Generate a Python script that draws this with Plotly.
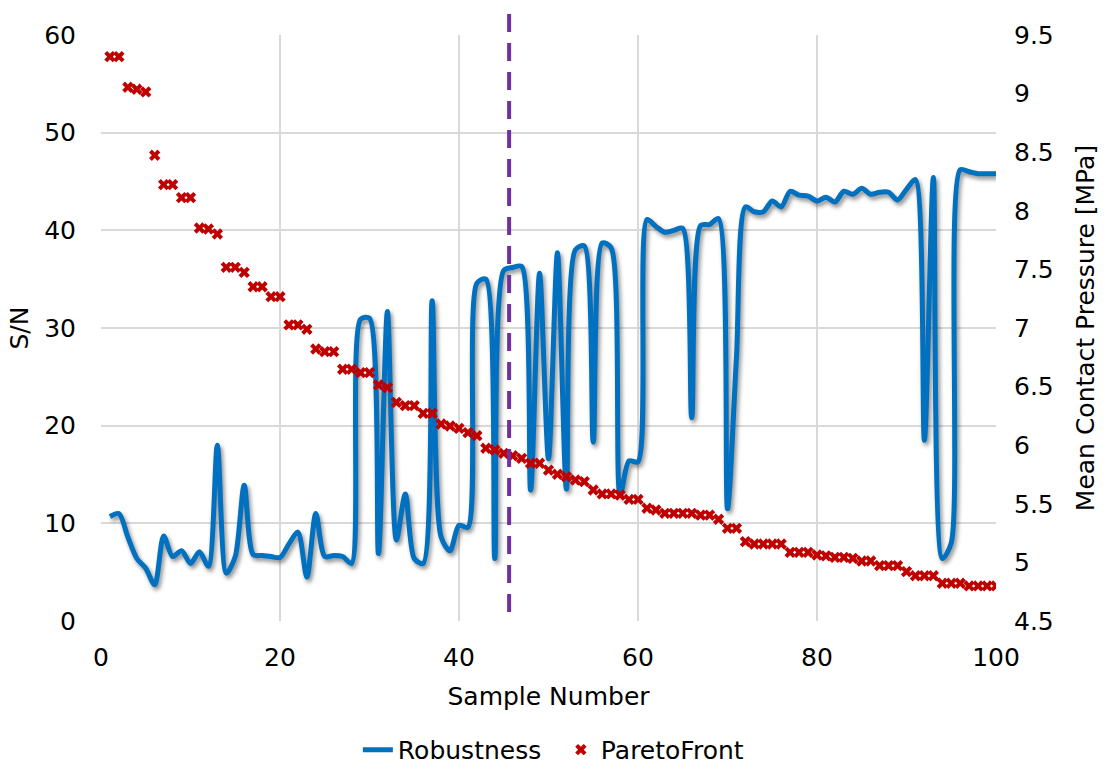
import plotly.graph_objects as go

# Sample index 1..100
samples = list(range(1, 101))

# Signal-to-noise ratio for each sample (left axis)
robustness = [
    10.7, 11.0, 8.6, 6.4, 5.4, 3.7, 8.7, 6.6, 7.2, 5.9,
    7.1, 5.6, 18.0, 4.9, 6.6, 13.9, 6.8, 6.7, 6.6, 6.5,
    7.9, 9.1, 4.5, 11.0, 6.6, 6.7, 6.6, 5.9, 30.9, 31.0,
    6.9, 31.7, 8.3, 13.0, 6.4, 5.9, 32.8, 8.6, 7.2, 9.8,
    9.6, 34.6, 35.0, 6.4, 35.9, 36.2, 36.3, 13.4, 35.6, 16.6,
    37.7, 13.5, 38.0, 38.4, 18.3, 38.7, 38.2, 12.9, 16.4, 16.3,
    41.1, 40.4, 39.8, 40.0, 40.2, 20.8, 40.5, 40.6, 41.2, 11.5,
    27.0, 42.4, 41.9, 41.9, 43.0, 42.4, 44.0, 43.6, 43.5, 43.0,
    43.4, 42.9, 44.0, 43.7, 44.3, 43.7, 43.9, 43.9, 43.1, 44.2,
    45.2, 18.5, 45.4, 6.4, 8.0, 46.2, 46.0, 45.8, 45.8, 45.8,
]

# Mean contact pressure on the Pareto front, MPa (right axis)
pareto_front = [
    9.315, 9.315, 9.054, 9.037, 9.014, 8.474, 8.223, 8.223, 8.112, 8.112,
    7.853, 7.845, 7.802, 7.518, 7.518, 7.475, 7.352, 7.352, 7.267, 7.267,
    7.026, 7.026, 6.989, 6.821, 6.798, 6.798, 6.648, 6.648, 6.619, 6.619,
    6.514, 6.491, 6.366, 6.337, 6.337, 6.272, 6.272, 6.181, 6.164, 6.144,
    6.107, 6.081, 5.974, 5.959, 5.931, 5.910, 5.888, 5.846, 5.846, 5.788,
    5.752, 5.731, 5.703, 5.689, 5.618, 5.584, 5.584, 5.575, 5.537, 5.537,
    5.462, 5.447, 5.419, 5.419, 5.419, 5.419, 5.404, 5.404, 5.368, 5.291,
    5.291, 5.177, 5.157, 5.157, 5.157, 5.157, 5.086, 5.086, 5.086, 5.063,
    5.055, 5.043, 5.043, 5.035, 5.012, 5.012, 4.972, 4.972, 4.972, 4.921,
    4.886, 4.886, 4.886, 4.822, 4.822, 4.822, 4.799, 4.799, 4.799, 4.799,
]

# Sample number where the trade-off cut is marked
cut_sample = 45.6

FONT = "DejaVu Sans"
TXT = "#000000"
GRID = "#d9d9d9"
FS = 25

fig = go.Figure()

fig.add_trace(go.Scatter(
    x=samples, y=robustness, name="Robustness", mode="lines",
    line=dict(color="#0070C0", width=5, shape="spline", smoothing=0.8),
    yaxis="y",
))

fig.add_trace(go.Scatter(
    x=samples, y=pareto_front, name="ParetoFront", mode="markers",
    marker=dict(symbol="x", size=10, color="#C00000", line=dict(width=0)),
    yaxis="y2",
))

fig.add_shape(
    type="line", xref="x", yref="paper",
    x0=cut_sample, x1=cut_sample, y0=0.0154, y1=1.046,
    line=dict(color="#7030A0", width=4, dash="18px,11px"),
    layer="above",
)

fig.update_layout(
    width=1106, height=769,
    margin=dict(l=101, r=110, t=35, b=148, autoexpand=False),
    paper_bgcolor="white", plot_bgcolor="white",
    font=dict(family=FONT, size=FS, color=TXT),
    showlegend=True,
    legend=dict(
        orientation="h", x=0.287, xanchor="left", y=-0.220, yanchor="middle",
        font=dict(family=FONT, size=FS, color=TXT),
        bgcolor="rgba(0,0,0,0)", itemwidth=30, entrywidth=158,
    ),
    xaxis=dict(
        range=[0, 100], dtick=20, tick0=0, automargin=False,
        showgrid=True, gridcolor=GRID, gridwidth=1.5,
        zeroline=False, showline=False, ticks="",
        ticklabelstandoff=19,
        title=dict(text="Sample Number", standoff=16, font=dict(size=FS)),
        tickfont=dict(size=FS),
    ),
    yaxis=dict(
        range=[0, 60], dtick=10, tick0=0, automargin=False,
        showgrid=True, gridcolor=GRID, gridwidth=1.5,
        zeroline=False, showline=False, ticks="",
        ticklabelstandoff=24,
        title=dict(text="S/N", standoff=8, font=dict(size=FS)),
        tickfont=dict(size=FS),
    ),
    yaxis2=dict(
        range=[4.5, 9.5], dtick=0.5, tick0=4.5, automargin=False,
        overlaying="y", side="right",
        showgrid=False, zeroline=False, showline=False, ticks="",
        ticklabelstandoff=17,
        title=dict(text="Mean Contact Pressure [MPa]", standoff=23, font=dict(size=FS)),
        tickfont=dict(size=FS),
    ),
)

# soft drop shadow under the robustness curve
shadow_js = """
var gd = document.getElementById('{plot_id}');
function addShadow() {
  var lines = gd.querySelectorAll('.scatterlayer .trace path.js-line');
  if (lines.length) {
    lines[0].style.filter = 'drop-shadow(2px 3px 2px rgba(0,0,0,0.45))';
  }
}
addShadow();
gd.on('plotly_afterplot', addShadow);
"""

fig.write_html("out.html", post_script=shadow_js)
